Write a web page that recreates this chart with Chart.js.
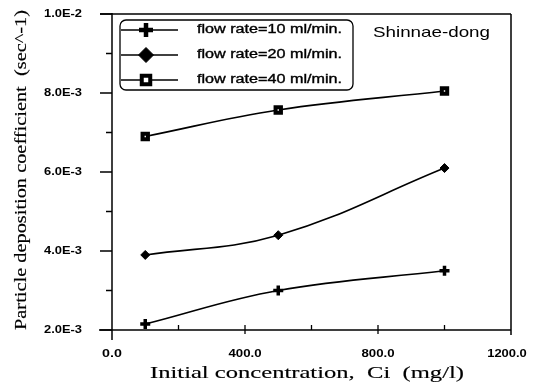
<!DOCTYPE html>
<html>
<head>
<meta charset="utf-8">
<script src="https://cdn.jsdelivr.net/npm/chart.js@4/dist/chart.umd.min.js"></script>
<style>
html,body{margin:0;padding:0;background:#fff;}
#wrap{width:538px;height:387px;position:relative;}
</style>
</head>
<body>
<div id="wrap"><canvas id="c" width="538" height="387"></canvas></div>
<script>
const concentrations = [100, 500, 1000];
const flow10 = [0.00215, 0.0030, 0.0035];
const flow20 = [0.0039, 0.0044, 0.0061];
const flow40 = [0.0069, 0.00757, 0.00805];
const seriesLabels = ['flow rate=10 ml/min.', 'flow rate=20 ml/min.', 'flow rate=40 ml/min.'];
const yTickValues = [0.002, 0.004, 0.006, 0.008, 0.010];
const yTickLabels = ['2.0E-3', '4.0E-3', '6.0E-3', '8.0E-3', '1.0E-2'];
const xTickValues = [0, 400, 800, 1200];
const xTickLabels = ['0.0', '400.0', '800.0', '1200.0'];
const xTitle = 'Initial concentration,  Ci  (mg/l)';
const yTitle = 'Particle deposition coefficient  (sec^-1)';
const siteLabel = 'Shinnae-dong';

function pts(ys){ return concentrations.map((x,i)=>({x:x,y:ys[i]})); }

const styles = [
  {pointStyle:'cross', radius:5, borderWidth:3.5, bg:'#000', lradius:7, lborder:4.5},
  {pointStyle:'rectRot', radius:4.5, borderWidth:1, bg:'#000', lradius:7.5, lborder:1},
  {pointStyle:'rect', radius:3.8, borderWidth:4, bg:'#fff', lradius:6, lborder:4}
];
const seriesData = [flow10, flow20, flow40];

const datasets = seriesData.map((d,i)=>({
  label: seriesLabels[i],
  data: pts(d),
  showLine: true,
  borderColor:'#000',
  borderWidth:1.6,
  tension:0.4,
  pointStyle: styles[i].pointStyle,
  pointRadius: styles[i].radius,
  pointBorderWidth: styles[i].borderWidth,
  pointBackgroundColor: styles[i].bg,
  pointBorderColor:'#000',
  clip:false
}));

function fitText(ctx, text, x, y, width, align, strokeW){
  const w = ctx.measureText(text).width;
  const s = width / w;
  ctx.save();
  let x0 = x;
  if (align === 'right') x0 = x - width;
  else if (align === 'center') x0 = x - width/2;
  ctx.translate(x0, y);
  ctx.scale(s, 1);
  ctx.textAlign = 'left';
  ctx.fillText(text, 0, 0);
  if (strokeW) { ctx.lineWidth = strokeW; ctx.strokeStyle = ctx.fillStyle; ctx.strokeText(text, 0, 0); }
  ctx.restore();
}

const decor = {
  id:'decor',
  afterDraw(chart){
    const ctx = chart.ctx;
    const xs = chart.scales.x, ys = chart.scales.y;
    const a = chart.chartArea;
    ctx.save();
    ctx.strokeStyle = '#000';
    ctx.fillStyle = '#000';
    ctx.lineWidth = 1.5;
    // frame
    ctx.beginPath();
    ctx.moveTo(a.left, a.top - 1); ctx.lineTo(a.left, a.bottom + 10);
    ctx.moveTo(a.left - 13, a.bottom); ctx.lineTo(a.right, a.bottom);
    ctx.moveTo(a.left - 12, a.top); ctx.lineTo(a.right, a.top);
    ctx.moveTo(a.right, a.top); ctx.lineTo(a.right, a.bottom + 5);
    ctx.stroke();
    // y ticks
    ctx.lineWidth = 1.3;
    ctx.beginPath();
    for (let v = 0.002; v <= 0.01001; v += 0.001) {
      const py = ys.getPixelForValue(v);
      const major = Math.round(v*1000) % 2 === 0;
      ctx.moveTo(a.left - (major ? 12 : 6), py);
      ctx.lineTo(a.left, py);
    }
    // x ticks
    for (let v = 200; v <= 1000; v += 200) {
      const px = xs.getPixelForValue(v);
      const major = v % 400 === 0;
      ctx.moveTo(px, a.bottom - 5);
      ctx.lineTo(px, a.bottom + (major ? 4 : 0));
    }
    ctx.stroke();
    // tick labels
    ctx.font = 'bold 11px "Liberation Sans", Arial, sans-serif';
    ctx.textBaseline = 'middle';
    yTickValues.forEach((v,i)=>{
      fitText(ctx, yTickLabels[i], 82, ys.getPixelForValue(v), 38, 'right');
    });
    xTickValues.forEach((v,i)=>{
      const w = xTickLabels[i].length * 6.6;
      let cx = xs.getPixelForValue(v);
      if (i === xTickValues.length - 1) cx -= 4;
      fitText(ctx, xTickLabels[i], cx, 354, w, 'center');
    });
    // axis titles
    ctx.font = '17px "Liberation Serif", "Times New Roman", serif';
    ctx.textBaseline = 'middle';
    fitText(ctx, xTitle, 307, 374, 314, 'center', 0.15);
    ctx.save();
    ctx.translate(22, 170);
    ctx.rotate(-Math.PI/2);
    fitText(ctx, yTitle, 0, 0, 320, 'center', 0.15);
    ctx.restore();
    // site label
    ctx.font = '15px "Liberation Sans", Arial, sans-serif';
    fitText(ctx, siteLabel, 373, 33, 117, 'left');
    // legend box
    ctx.lineWidth = 1.3;
    ctx.beginPath();
    ctx.roundRect(120, 20, 233, 70, 6);
    ctx.stroke();
    const rows = [30, 55, 80];
    ctx.font = '12px "Liberation Sans", Arial, sans-serif';
    rows.forEach((ry,i)=>{
      ctx.lineWidth = 1.5;
      ctx.strokeStyle = '#000';
      ctx.beginPath();
      ctx.moveTo(121, ry); ctx.lineTo(178, ry);
      ctx.stroke();
      ctx.fillStyle = styles[i].bg;
      ctx.lineWidth = styles[i].lborder;
      Chart.helpers.drawPoint(ctx, {pointStyle: styles[i].pointStyle, radius: styles[i].lradius, rotation:0, borderWidth: styles[i].lborder}, 146, ry);
      ctx.fillStyle = '#000';
      fitText(ctx, seriesLabels[i], 197, ry, 145, 'left', 0.35);
    });
    ctx.restore();
  }
};

new Chart(document.getElementById('c'), {
  type:'scatter',
  data:{datasets:datasets},
  options:{
    responsive:false,
    animation:false,
    devicePixelRatio:1,
    layout:{padding:{top:14, right:27, left:0, bottom:0}},
    plugins:{legend:{display:false}, tooltip:{enabled:false}},
    scales:{
      x:{type:'linear', min:0, max:1200,
         ticks:{display:false}, grid:{display:false}, border:{display:false},
         afterFit(s){ s.height = 57; }},
      y:{type:'linear', min:0.002, max:0.010,
         ticks:{display:false}, grid:{display:false}, border:{display:false},
         afterFit(s){ s.width = 112; }}
    }
  },
  plugins:[decor]
});
</script>
</body>
</html>
